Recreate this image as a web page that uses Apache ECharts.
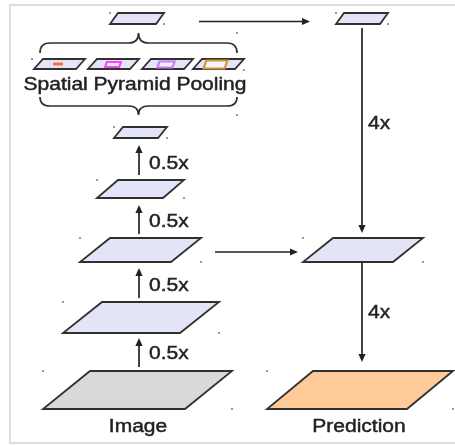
<!DOCTYPE html>
<html><head><meta charset="utf-8">
<script src="https://cdn.jsdelivr.net/npm/echarts@6/dist/echarts.min.js"></script>
<style>html,body{margin:0;padding:0;background:#fff}#c{width:455px;height:445px}</style>
</head><body><div id="c"></div>
<script>
// Diagram data (in diagram units, 1 unit = 1 px of the 455x445 canvas)
// feature maps: [bottom-left x, bottom y, bottom width, height, skew, kind]
const maps = [
  [110, 24, 46, 11, 8, 'feature'],
  [336, 24, 44, 11, 8, 'feature'],
  [114, 138, 44, 11, 9, 'feature'],
  [97, 198, 66, 18, 21, 'feature'],
  [80, 262, 91, 24, 30, 'feature'],
  [303, 262, 90, 24, 30, 'feature'],
  [63, 333, 117, 31, 39, 'feature'],
  [43, 409, 142, 38, 47, 'image'],
  [267, 409, 140, 38, 46, 'prediction']
];
// pyramid pooling cells: [bottom-left x, bottom y, bottom width, height, skew]
const sppCells = [
  [34, 69, 42, 10, 9],
  [88, 69, 42, 10, 9],
  [142, 69, 42, 10, 9],
  [193, 69, 42, 10, 9]
];
// pooling bins inside the cells: [center x, center y, width, height, bin]
const sppBins = [
  [58, 64, 10, 0, 'bin1'],
  [113, 64.5, 14, 5, 'bin2'],
  [166, 64.5, 15, 6, 'bin3'],
  [215.5, 64.5, 21, 8, 'bin6']
];
// braces: [left x, right x, end y, tip y]
const braces = [
  [40, 237, 53, 33],
  [40, 237, 97, 115]
];
// arrows: [tail x, tail y, head x, head y]
const arrows = [
  [139, 175, 139, 145],
  [139, 234, 139, 205],
  [139, 298, 139, 268],
  [139, 367, 139, 338],
  [199, 21.5, 310, 21.5],
  [215, 252, 298, 252],
  [362, 28, 362, 233],
  [362, 262, 362, 362]
];
// labels: [text, x, y, align]
const labels = [
  ['Spatial Pyramid Pooling', 135, 85, 'center'],
  ['0.5x', 149, 164, 'left'],
  ['0.5x', 149, 222, 'left'],
  ['0.5x', 149, 286, 'left'],
  ['0.5x', 149, 354, 'left'],
  ['4x', 368, 124, 'left'],
  ['4x', 368, 313, 'left'],
  ['Image', 138, 427, 'center'],
  ['Prediction', 359, 427, 'center']
];
// frame: [x1, y1, x2, y2]
const frame = [[10, 5, 470, 443]];

const fills = { feature: '#e4e4f9', image: '#d9d9d9', prediction: '#fdca98' };
const binColors = { bin1: '#ff6a30', bin2: '#ff40ff', bin3: '#cc77ff', bin6: '#cc9933' };
const INK = '#303030';

const chart = echarts.init(document.getElementById('c'));
function para(api, m) {
  const [x, y, w, h, s] = m;
  return [api.coord([x, y]), api.coord([x + w, y]), api.coord([x + w + s, y - h]), api.coord([x + s, y - h])];
}
function dot(p) {
  return { type: 'rect', shape: { x: p[0] - 0.8, y: p[1] - 0.8, width: 1.6, height: 1.6 }, style: { fill: '#555' } };
}
const base = { type: 'custom', coordinateSystem: 'cartesian2d', clip: false, silent: true, animation: false };

chart.setOption({
  animation: false,
  grid: { left: 0, right: 0, top: 0, bottom: 0 },
  xAxis: { type: 'value', min: 0, max: 455, show: false },
  yAxis: { type: 'value', min: 0, max: 445, inverse: true, show: false },
  series: [
    Object.assign({}, base, {
      data: frame.map(f => [f[0], f[1]]),
      renderItem: (params, api) => {
        const f = frame[params.dataIndex];
        const a = api.coord([f[0], f[1]]), b = api.coord([f[2], f[3]]);
        return { type: 'rect', shape: { x: a[0], y: a[1], width: b[0] - a[0], height: b[1] - a[1] },
          style: { fill: 'none', stroke: '#dedede', lineWidth: 2 } };
      }
    }),
    Object.assign({}, base, {
      data: maps.map(m => [m[0], m[1]]),
      renderItem: (params, api) => {
        const m = maps[params.dataIndex];
        const pts = para(api, m);
        return { type: 'group', children: [
          { type: 'polygon', shape: { points: pts }, style: { fill: fills[m[5]], stroke: INK, lineWidth: 1.8, lineJoin: 'miter' } },
          dot(api.coord([m[0], m[1] - m[3]])),
          dot(api.coord([m[0] + m[2] + m[4], m[1]]))
        ] };
      }
    }),
    Object.assign({}, base, {
      data: sppCells.map(m => [m[0], m[1]]),
      renderItem: (params, api) => {
        const m = sppCells[params.dataIndex];
        const ch = [{ type: 'polygon', shape: { points: para(api, m) }, style: { fill: fills.feature, stroke: INK, lineWidth: 1.8 } }];
        if (params.dataIndex === 0) ch.push(dot(api.coord([m[0] - 2, m[1] - m[3]])));
        if (params.dataIndex === sppCells.length - 1) ch.push(dot(api.coord([m[0] + m[2] + m[4], m[1] + 1])));
        return { type: 'group', children: ch };
      }
    }),
    Object.assign({}, base, {
      data: sppBins.map(b => [b[0], b[1]]),
      renderItem: (params, api) => {
        const b = sppBins[params.dataIndex];
        const [cx, cy, w, h, k] = b;
        if (h === 0) {
          const a = api.coord([cx - w / 2, cy]), c = api.coord([cx + w / 2, cy]);
          return { type: 'line', shape: { x1: a[0], y1: a[1], x2: c[0], y2: c[1] }, style: { stroke: binColors[k], lineWidth: 2.8 } };
        }
        const s = h * 0.35;
        const pts = [api.coord([cx - w / 2 - s / 2, cy + h / 2]), api.coord([cx + w / 2 - s / 2, cy + h / 2]),
                     api.coord([cx + w / 2 + s / 2, cy - h / 2]), api.coord([cx - w / 2 + s / 2, cy - h / 2])];
        return { type: 'polygon', shape: { points: pts }, style: { fill: '#f7f2ff', stroke: binColors[k], lineWidth: 2.2 } };
      }
    }),
    Object.assign({}, base, {
      data: braces.map(b => [b[0], b[2]]),
      renderItem: (params, api) => {
        const [xl, xr, ye, yt] = braces[params.dataIndex];
        const mid = (ye + yt) / 2, xc = (xl + xr) / 2, r = 10;
        const P = (x, y) => api.coord([x, y]).join(' ');
        const d = 'M' + P(xl, ye) + ' Q' + P(xl, mid) + ' ' + P(xl + r, mid) +
          ' L' + P(xc - r, mid) + ' Q' + P(xc, mid) + ' ' + P(xc, yt) +
          ' Q' + P(xc, mid) + ' ' + P(xc + r, mid) +
          ' L' + P(xr - r, mid) + ' Q' + P(xr, mid) + ' ' + P(xr, ye);
        return { type: 'group', children: [
          { type: 'path', shape: { pathData: d }, style: { fill: 'none', stroke: INK, lineWidth: 1.7 } },
          dot(api.coord([xr, yt]))
        ] };
      }
    }),
    Object.assign({}, base, {
      data: arrows.map(a => [a[0], a[1]]),
      renderItem: (params, api) => {
        const [x1, y1, x2, y2] = arrows[params.dataIndex];
        const a = api.coord([x1, y1]), b = api.coord([x2, y2]);
        const dx = b[0] - a[0], dy = b[1] - a[1], L = Math.hypot(dx, dy);
        const ux = dx / L, uy = dy / L, hl = 8, hw = 3.6;
        const base0 = [b[0] - ux * hl, b[1] - uy * hl];
        return { type: 'group', children: [
          { type: 'line', shape: { x1: a[0], y1: a[1], x2: base0[0], y2: base0[1] }, style: { stroke: '#222', lineWidth: 1.7 } },
          { type: 'polygon', shape: { points: [b, [base0[0] - uy * hw, base0[1] + ux * hw], [base0[0] + uy * hw, base0[1] - ux * hw]] },
            style: { fill: '#222' } }
        ] };
      }
    }),
    Object.assign({}, base, {
      data: labels.map(l => [l[1], l[2]]),
      renderItem: (params, api) => {
        const [t, x, y, al] = labels[params.dataIndex];
        const p = api.coord([x, y]);
        return { type: 'text', x: p[0], y: p[1], scaleX: 1.2, scaleY: 1,
          style: { text: t, x: 0, y: 0, align: al, verticalAlign: 'middle', fill: '#222',
            stroke: '#222', lineWidth: 0.45,
            font: '17.5px "Liberation Sans", Arial, sans-serif' } };
      }
    })
  ]
});
</script></body></html>
